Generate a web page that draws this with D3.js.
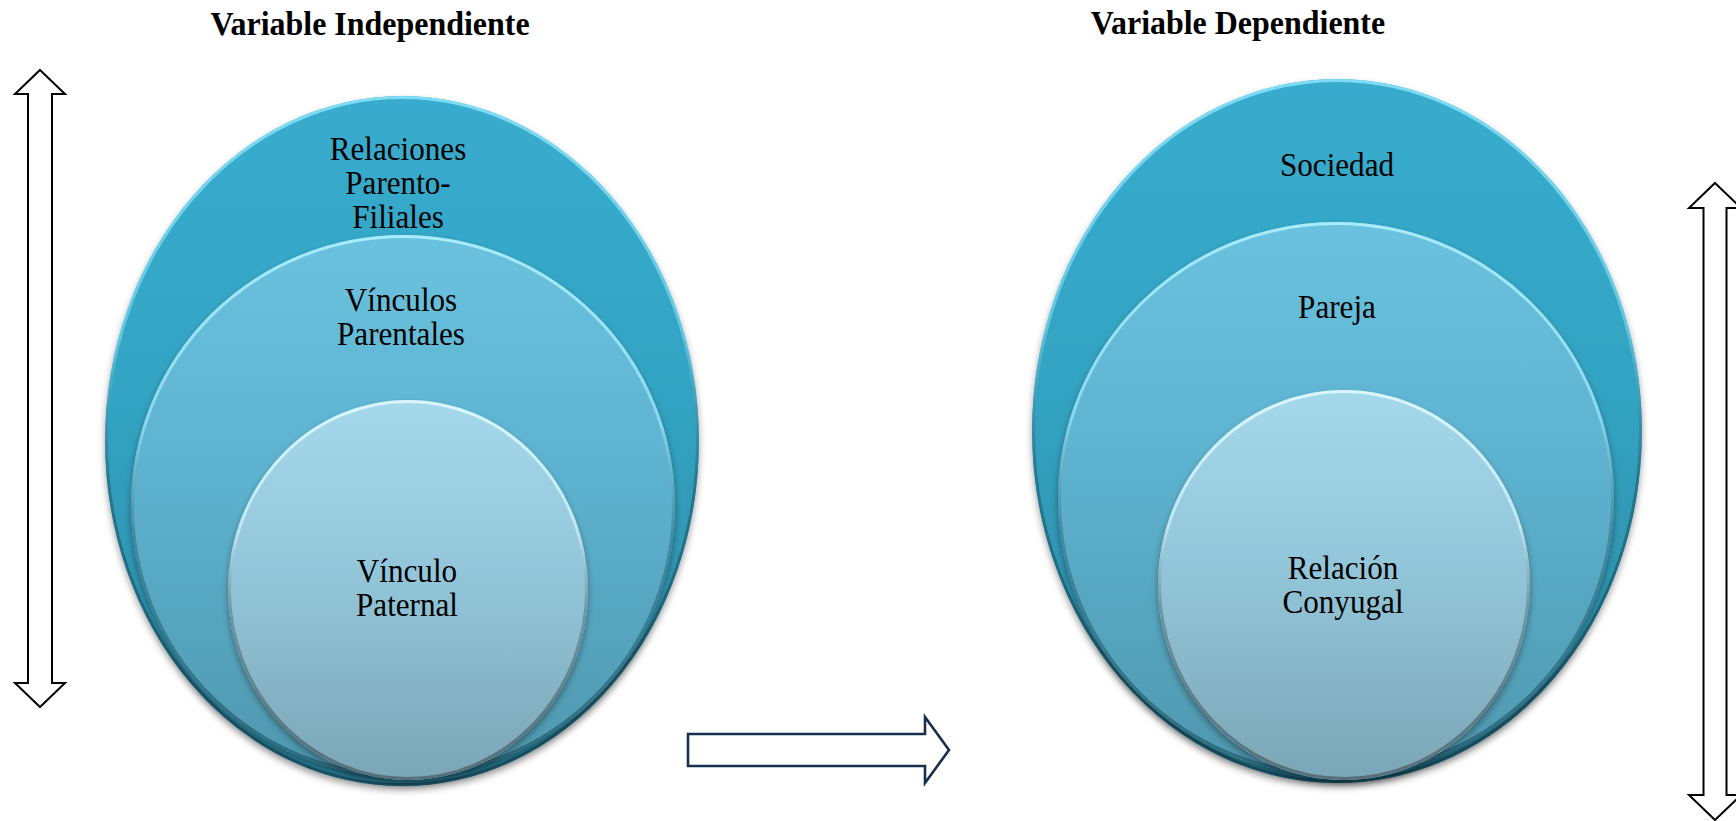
<!DOCTYPE html>
<html>
<head>
<meta charset="utf-8">
<script src="https://cdn.jsdelivr.net/npm/d3@7"></script>
<style>
  html, body { margin: 0; padding: 0; background: #ffffff; }
  svg { display: block; }
</style>
</head>
<body>
<svg id="chart" width="1736" height="821"></svg>
<script>
// ---------- data ----------
const panelTitles = ["Variable Independiente", "Variable Dependiente"];
const levels = ["outer", "middle", "inner"];
const leftLabels = [["Relaciones", "Parento-", "Filiales"], ["Vínculos", "Parentales"], ["Vínculo", "Paternal"]];
const rightLabels = [["Sociedad"], ["Pareja"], ["Relación", "Conyugal"]];

// ---------- layout (kept separate from data) ----------
const W = 1736, H = 821;
const panels = [
  { title: panelTitles[0], tx: 370, ty: 35, labels: leftLabels,
    shapes: [
      { cx: 402, cy: 441, rx: 297, ry: 345, lx: 398, ly: 160 },
      { cx: 403, cy: 506, rx: 272, ry: 271, lx: 401, ly: 311 },
      { cx: 408, cy: 590, rx: 180, ry: 190, lx: 407, ly: 582 }
    ] },
  { title: panelTitles[1], tx: 1238, ty: 34, labels: rightLabels,
    shapes: [
      { cx: 1337, cy: 431, rx: 305, ry: 352, lx: 1337, ly: 176 },
      { cx: 1336, cy: 499, rx: 278, ry: 277, lx: 1337, ly: 318 },
      { cx: 1344, cy: 585, rx: 186, ry: 195, lx: 1343, ly: 579 }
    ] }
];
const lineStep = 34;
const labelSize = 33.5, labelScaleX = 0.93;
const titleSize = 34, titleScaleX = 0.94;

const fillTop = d3.scaleOrdinal().domain(levels).range(["#38acce", "#6ac2de", "#a6d8eb"]);
const fillMid = d3.scaleOrdinal().domain(levels).range(["#33a3c2", "#5db2cf", "#93c6da"]);
const fillBot = d3.scaleOrdinal().domain(levels).range(["#2b86a0", "#4f97ae", "#7ba6b6"]);
const rimTop  = d3.scaleOrdinal().domain(levels).range(["#7fdcf4", "#a9ecfb", "#d9f6fd"]);
const rimBot  = d3.scaleOrdinal().domain(levels).range(["#1b5669", "#2f6a7d", "#566f78"]);

const svg = d3.select("#chart");
const defs = svg.append("defs");

levels.forEach(l => {
  const g = defs.append("linearGradient").attr("id", "fill-" + l)
    .attr("x1", 0).attr("y1", 0).attr("x2", 0).attr("y2", 1);
  g.append("stop").attr("offset", "0%").attr("stop-color", fillTop(l));
  g.append("stop").attr("offset", "45%").attr("stop-color", fillMid(l));
  g.append("stop").attr("offset", "100%").attr("stop-color", fillBot(l));
  const r = defs.append("linearGradient").attr("id", "rim-" + l)
    .attr("x1", 0).attr("y1", 0).attr("x2", 0).attr("y2", 1);
  r.append("stop").attr("offset", "0%").attr("stop-color", rimTop(l));
  r.append("stop").attr("offset", "35%").attr("stop-color", rimTop(l)).attr("stop-opacity", 0.6);
  r.append("stop").attr("offset", "55%").attr("stop-color", rimBot(l)).attr("stop-opacity", 0.5);
  r.append("stop").attr("offset", "100%").attr("stop-color", rimBot(l));
});

const shadow = defs.append("filter").attr("id", "shadow")
  .attr("x", "-10%").attr("y", "-10%").attr("width", "120%").attr("height", "125%");
shadow.append("feDropShadow").attr("dx", 0).attr("dy", 4).attr("stdDeviation", 3.5)
  .attr("flood-color", "#000").attr("flood-opacity", 0.38);

const font = "'Liberation Serif', 'Times New Roman', serif";

panels.forEach(p => {
  const g = svg.append("g");
  g.append("g").attr("transform", `translate(${p.tx},${p.ty}) scale(${titleScaleX},1)`)
    .append("text").attr("x", 0).attr("y", 0)
    .attr("text-anchor", "middle").attr("font-family", font)
    .attr("font-weight", "bold").attr("font-size", titleSize).attr("fill", "#000")
    .text(p.title);

  const items = levels.map((l, i) => ({ level: l, s: p.shapes[i], lines: p.labels[i] }));

  const node = g.selectAll("g.lvl").data(items).join("g").attr("class", "lvl");
  node.append("ellipse")
    .attr("cx", d => d.s.cx).attr("cy", d => d.s.cy)
    .attr("rx", d => d.s.rx).attr("ry", d => d.s.ry)
    .attr("fill", d => `url(#fill-${d.level})`)
    .attr("filter", "url(#shadow)");
  node.append("ellipse")
    .attr("cx", d => d.s.cx).attr("cy", d => d.s.cy)
    .attr("rx", d => d.s.rx - 1.5).attr("ry", d => d.s.ry - 1.5)
    .attr("fill", "none")
    .attr("stroke", d => `url(#rim-${d.level})`)
    .attr("stroke-width", 3);
  node.each(function(d) {
    const t = d3.select(this).append("g")
      .attr("transform", `translate(${d.s.lx},${d.s.ly}) scale(${labelScaleX},1)`)
      .append("text")
      .attr("text-anchor", "middle").attr("font-family", font)
      .attr("font-size", labelSize).attr("fill", "#000");
    d.lines.forEach((ln, k) => {
      t.append("tspan").attr("x", 0).attr("y", k * lineStep).text(ln);
    });
  });
});

// ---------- arrows ----------
function vDouble(cx, y0, y1, shaftHalf, headHalf, headLen) {
  const p = d3.path();
  p.moveTo(cx, y0);
  p.lineTo(cx + headHalf, y0 + headLen);
  p.lineTo(cx + shaftHalf, y0 + headLen);
  p.lineTo(cx + shaftHalf, y1 - headLen);
  p.lineTo(cx + headHalf, y1 - headLen);
  p.lineTo(cx, y1);
  p.lineTo(cx - headHalf, y1 - headLen);
  p.lineTo(cx - shaftHalf, y1 - headLen);
  p.lineTo(cx - shaftHalf, y0 + headLen);
  p.lineTo(cx - headHalf, y0 + headLen);
  p.closePath();
  return p.toString();
}
function hRight(x0, x1, cy, shaftHalf, headHalf, headLen) {
  const p = d3.path();
  p.moveTo(x0, cy - shaftHalf);
  p.lineTo(x1 - headLen, cy - shaftHalf);
  p.lineTo(x1 - headLen, cy - headHalf);
  p.lineTo(x1, cy);
  p.lineTo(x1 - headLen, cy + headHalf);
  p.lineTo(x1 - headLen, cy + shaftHalf);
  p.lineTo(x0, cy + shaftHalf);
  p.closePath();
  return p.toString();
}

svg.append("path").attr("d", vDouble(40, 70, 707, 12, 25, 24))
  .attr("fill", "#fff").attr("stroke", "#000").attr("stroke-width", 2);
svg.append("path").attr("d", vDouble(1715, 183, 820, 11.5, 26, 25))
  .attr("fill", "#fff").attr("stroke", "#000").attr("stroke-width", 2);
svg.append("path").attr("d", hRight(688, 949, 750, 16, 33, 24))
  .attr("fill", "#fff").attr("stroke", "#17304d").attr("stroke-width", 2.6);
</script>
</body>
</html>
